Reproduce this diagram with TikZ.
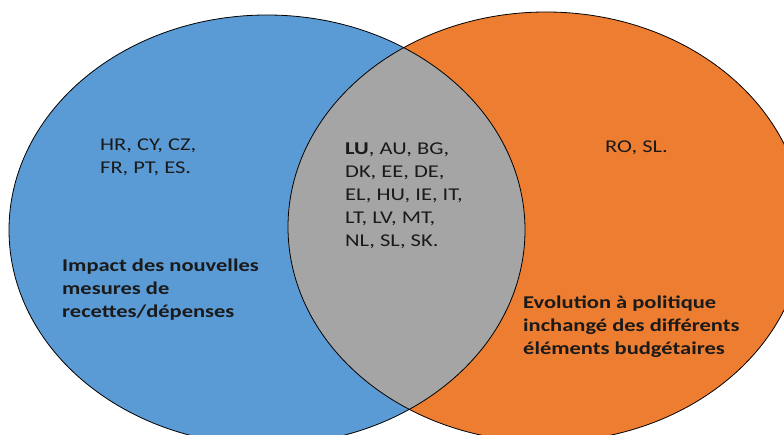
\documentclass[tikz,border=0pt]{standalone}
\usepackage{fontspec}
\setmainfont{Carlito}[FakeStretch=1.25]
\definecolor{vblue}{HTML}{5B9BD5}
\definecolor{vorange}{HTML}{ED7D31}
\definecolor{vgray}{HTML}{A5A5A5}
\definecolor{vtext}{HTML}{1A1A1A}
\tikzset{
  txt/.style={anchor=base west, inner sep=0pt, align=left, text=vtext,
    font=\fontsize{18pt}{23pt}\selectfont},
  btxt/.style={txt, font=\fontsize{18pt}{23pt}\selectfont\bfseries},
  outline/.style={draw=black, line width=0.8pt}
}
\begin{document}
\begin{tikzpicture}[x=1pt,y=-1pt]
\useasboundingbox (0,0) rectangle (784,435);
\begin{scope}
\clip (0,0) rectangle (784,435);
\fill[vblue] (267,230) ellipse [x radius=258, y radius=215];
\fill[vorange] (546,227) ellipse [x radius=258, y radius=215];
\begin{scope}
\clip (267,230) ellipse [x radius=258, y radius=215];
\fill[vgray] (546,227) ellipse [x radius=258, y radius=215];
\end{scope}
\draw[outline] (267,230) ellipse [x radius=258, y radius=215];
\draw[outline] (546,227) ellipse [x radius=258, y radius=215];
\end{scope}
\node[txt] (left) at (100,174) {HR, CY, CZ,\\FR, PT, ES.};
\node[txt] (mid) at (345,247) {\textbf{LU}, AU, BG,\\DK, EE, DE,\\EL, HU, IE, IT,\\LT, LV, MT,\\NL, SL, SK.};
\node[txt] (right) at (605,153) {RO, SL.};
\node[btxt] (lefttitle) at (62,318) {Impact des nouvelles\\mesures de\\recettes/dépenses};
\node[btxt] (righttitle) at (523,355) {Evolution à politique\\inchangé des différents\\éléments budgétaires};
\end{tikzpicture}
\end{document}
